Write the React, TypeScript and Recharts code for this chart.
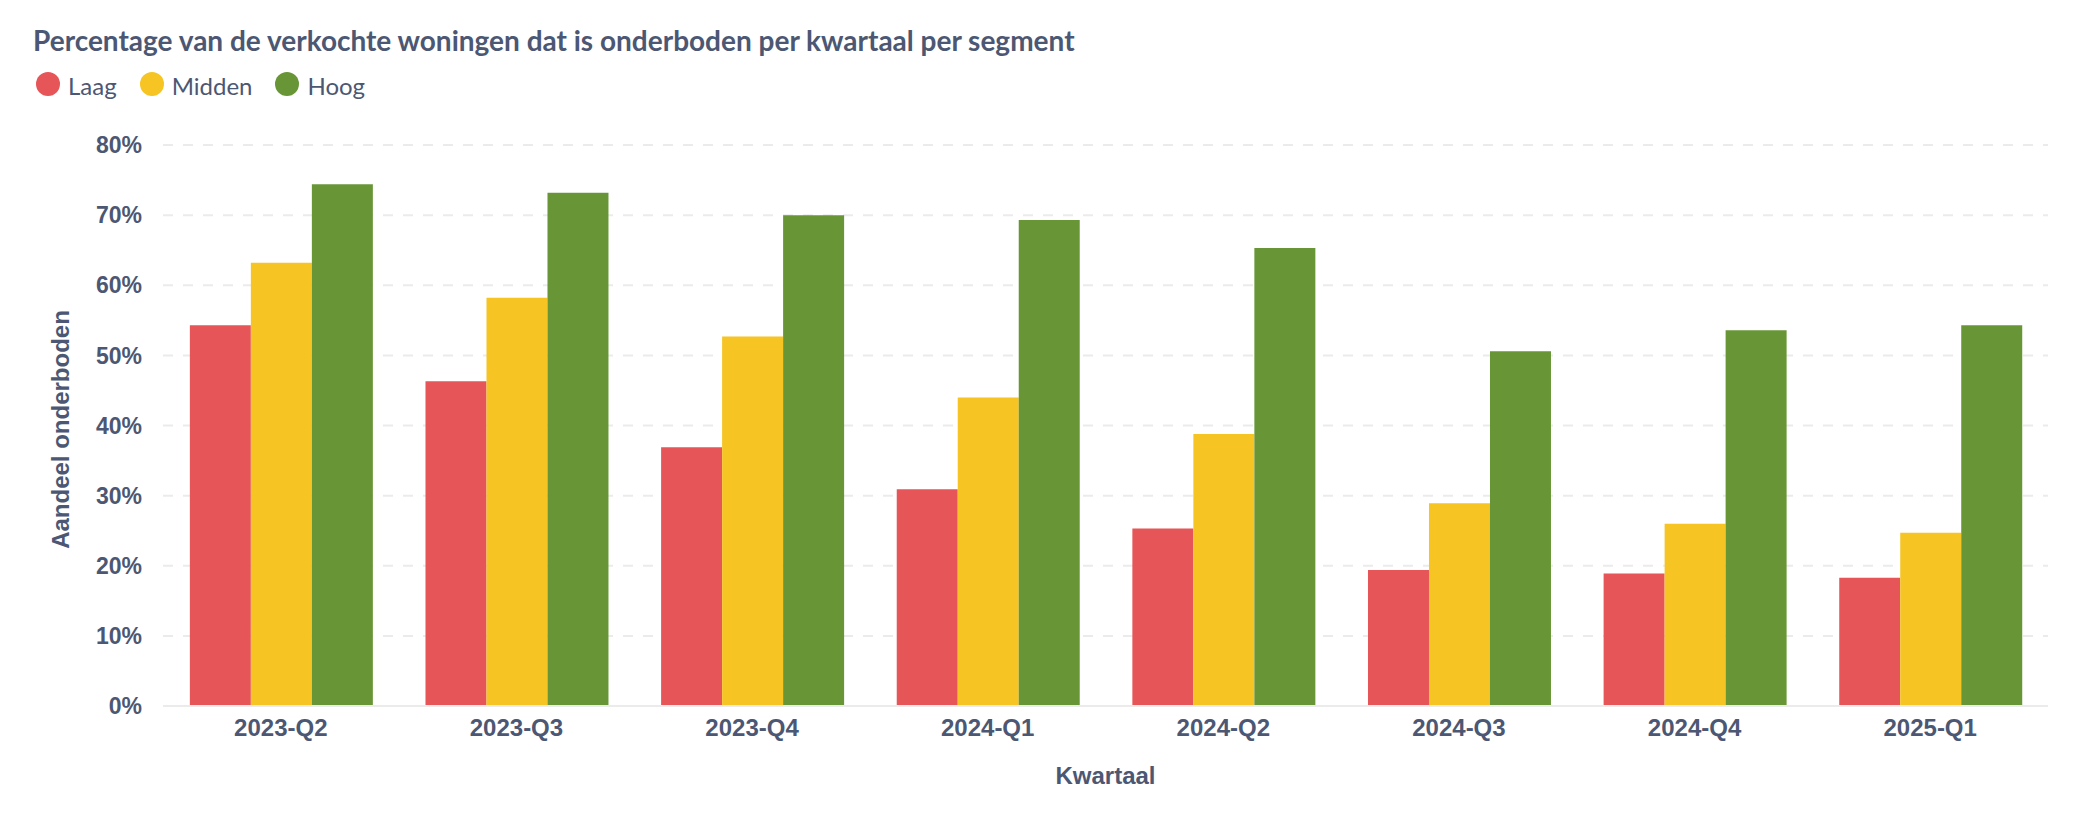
import { BarChart, Bar, XAxis, YAxis, CartesianGrid, Label } from 'recharts'

const quarters = ['2023-Q2', '2023-Q3', '2023-Q4', '2024-Q1', '2024-Q2', '2024-Q3', '2024-Q4', '2025-Q1']
const laag = [54.3, 46.3, 36.9, 30.9, 25.3, 19.4, 18.9, 18.3]
const midden = [63.2, 58.2, 52.7, 44.0, 38.8, 28.9, 26.0, 24.7]
const hoog = [74.4, 73.2, 70.0, 69.3, 65.3, 50.6, 53.6, 54.3]
const yTicks = [0, 10, 20, 30, 40, 50, 60, 70, 80]

const series = [
  { key: 'laag', name: 'Laag', color: '#E65557' },
  { key: 'midden', name: 'Midden', color: '#F6C423' },
  { key: 'hoog', name: 'Hoog', color: '#689636' },
]

const TEXT = '#4C5773'
const AXIS_FONT = "'Liberation Sans', Arial, sans-serif"

const chartData = quarters.map((q, i) => ({ quarter: q, laag: laag[i], midden: midden[i], hoog: hoog[i] }))

function YTitle(props: any) {
  const vb = props.viewBox || { x: 0, y: 0, height: 0 }
  const cx = 60
  const cy = vb.y + vb.height / 2 + 4
  return (
    <text
      x={cx} y={cy}
      transform={`rotate(-90 ${cx} ${cy})`}
      textAnchor="middle" dominantBaseline="central"
      fill={TEXT} fontSize={24} fontWeight={700} fontFamily={AXIS_FONT}
    >
      Aandeel onderboden
    </text>
  )
}

export default function App() {
  return (
    <div style={{ position: 'absolute', left: 0, top: 0, width: 2096, height: 816, background: '#fff' }}>
      <div style={{
        position: 'absolute', left: 33, top: 26, fontFamily: 'Lato, sans-serif', fontWeight: 700,
        fontSize: 28, lineHeight: '28px', color: TEXT, whiteSpace: 'nowrap',
      }}>
        Percentage van de verkochte woningen dat is onderboden per kwartaal per segment
      </div>
      <div style={{
        position: 'absolute', left: 36, top: 74, display: 'flex', alignItems: 'center',
        fontFamily: 'Lato, sans-serif', fontSize: 24, lineHeight: '24px', color: TEXT,
      }}>
        {series.map(s => (
          <span key={s.key} style={{ display: 'flex', alignItems: 'center', marginRight: 23 }}>
            <span style={{
              width: 24, height: 24, borderRadius: 12, background: s.color,
              marginRight: 8, transform: 'translateY(-2px)',
            }} />
            {s.name}
          </span>
        ))}
      </div>
      <div style={{ position: 'absolute', left: 0, top: 0 }}>
        <BarChart
          width={2096} height={816} data={chartData}
          margin={{ top: 145, right: 48, left: 83, bottom: 20 }}
          barCategoryGap="11.4%" barGap={0}
        >
          <CartesianGrid vertical={false} stroke="#EBEBEB" strokeWidth={2} strokeDasharray="10 10" />
          <XAxis
            dataKey="quarter" height={90} tickLine={false}
            axisLine={{ stroke: '#EBEBEB', strokeWidth: 2 }} tickMargin={7}
            tick={{ fill: TEXT, fontSize: 24, fontWeight: 700, fontFamily: AXIS_FONT }}
          >
            <Label
              value="Kwartaal" position="insideBottom" offset={12}
              fill={TEXT} fontSize={24} fontWeight={700} fontFamily={AXIS_FONT}
            />
          </XAxis>
          <YAxis
            width={80} domain={[0, 80]} ticks={yTicks} tickFormatter={v => `${v}%`}
            axisLine={false} tickLine={false} tickMargin={15}
            tick={{ fill: TEXT, fontSize: 23, fontWeight: 700, fontFamily: AXIS_FONT }}
          >
            <Label content={<YTitle />} />
          </YAxis>
          {series.map(s => (
            <Bar key={s.key} dataKey={s.key} name={s.name} fill={s.color} isAnimationActive={false} />
          ))}
        </BarChart>
      </div>
    </div>
  )
}
